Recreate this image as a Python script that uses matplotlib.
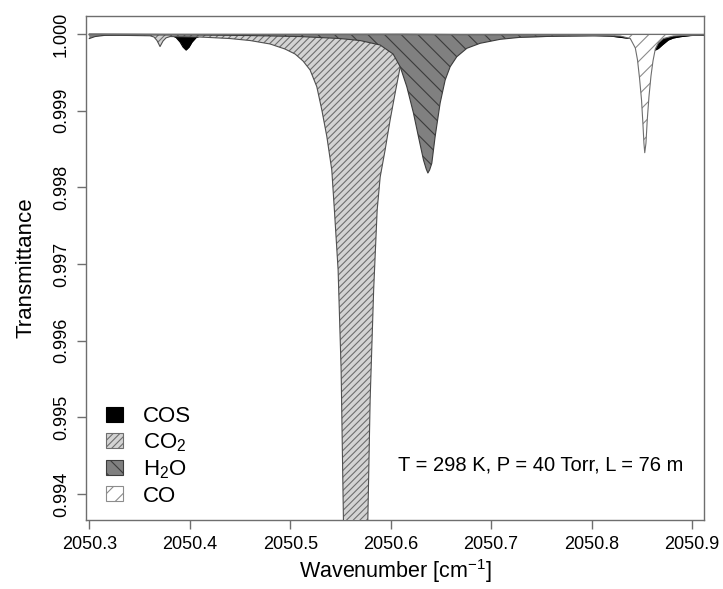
import matplotlib
matplotlib.use("Agg")
import matplotlib.pyplot as plt
from matplotlib.patches import Patch

plt.rcParams['font.family'] = ['Liberation Sans', 'DejaVu Sans']
plt.rcParams['mathtext.fontset'] = 'custom'
plt.rcParams['mathtext.rm'] = 'Liberation Sans'
plt.rcParams['mathtext.it'] = 'Liberation Sans:italic'
plt.rcParams['hatch.linewidth'] = 0.8

# ---- data (wavenumber in cm-1, transmittance) ----
cos_wn = [2050.3000, 2050.3754, 2050.3824, 2050.3864, 2050.3903, 2050.3933, 2050.3963,
          2050.3993, 2050.4023, 2050.4063, 2050.4113, 2050.4202, 2050.6095, 2050.7885,
          2050.8184, 2050.8386, 2050.8505, 2050.8565, 2050.8605, 2050.8635, 2050.8665,
          2050.8704, 2050.8764, 2050.8814, 2050.8884, 2050.8983, 2050.9113]
cos_t = [0.999997, 0.999993, 0.999980, 0.999954, 0.999896, 0.999830, 0.999791,
         0.999830, 0.999896, 0.999954, 0.999980, 0.999992, 0.999996, 0.999987,
         0.999974, 0.999941, 0.999883, 0.999837, 0.999804, 0.999791, 0.999811,
         0.999857, 0.999922, 0.999948, 0.999965, 0.999980, 0.999987]

co2_wn = [2050.3000, 2050.3306, 2050.3605, 2050.3644, 2050.3674, 2050.3704, 2050.3734,
          2050.3764, 2050.3804, 2050.4103, 2050.4401, 2050.4601, 2050.4800, 2050.4949,
          2050.5049, 2050.5128, 2050.5198, 2050.5265, 2050.5315, 2050.5365, 2050.5414,
          2050.5440, 2050.5477, 2050.5507, 2050.5530, 2050.5557, 2050.5597, 2050.5651,
          2050.5706, 2050.5746, 2050.5773, 2050.5796, 2050.5831, 2050.5866, 2050.5896,
          2050.5945, 2050.5995, 2050.6045, 2050.6095, 2050.6194, 2050.6294, 2050.6493,
          2050.6792, 2050.7091, 2050.7589, 2050.8087, 2050.8585, 2050.9113]
co2_t = [0.999987, 0.999983, 0.999977, 0.999961, 0.999915, 0.999837, 0.999909,
         0.999950, 0.999967, 0.999961, 0.999941, 0.999915, 0.999870, 0.999804,
         0.999739, 0.999648, 0.999531, 0.999313, 0.999009, 0.998661, 0.998227,
         0.997705, 0.996923, 0.995618, 0.993663, 0.991315, 0.986100, 0.982188,
         0.986100, 0.991315, 0.993663, 0.995227, 0.996662, 0.997705, 0.998135,
         0.998487, 0.998879, 0.999231, 0.999570, 0.999739, 0.999830, 0.999896,
         0.999935, 0.999954, 0.999970, 0.999977, 0.999980, 0.999983]

h2o_wn = [2050.3000, 2050.3057, 2050.3156, 2050.3505, 2050.4103, 2050.4601, 2050.5099,
          2050.5497, 2050.5696, 2050.5895, 2050.6025, 2050.6095, 2050.6161, 2050.6227,
          2050.6277, 2050.6327, 2050.6354, 2050.6371, 2050.6388, 2050.6410, 2050.6443,
          2050.6493, 2050.6543, 2050.6593, 2050.6659, 2050.6759, 2050.6891, 2050.7091,
          2050.7290, 2050.7688, 2050.8286, 2050.9113]
h2o_t = [0.999941, 0.999967, 0.999983, 0.999990, 0.999987, 0.999980, 0.999967,
         0.999941, 0.999915, 0.999857, 0.999739, 0.999574, 0.999313, 0.998970,
         0.998661, 0.998357, 0.998240, 0.998187, 0.998227, 0.998314, 0.998661,
         0.999100, 0.999400, 0.999574, 0.999704, 0.999814, 0.999879, 0.999931,
         0.999957, 0.999974, 0.999983, 0.999987]

co_wn = [2050.3000, 2050.6095, 2050.7688, 2050.8087, 2050.8286, 2050.8386, 2050.8436,
         2050.8458, 2050.8478, 2050.8498, 2050.8512, 2050.8522, 2050.8530, 2050.8542,
         2050.8555, 2050.8572, 2050.8592, 2050.8612, 2050.8635, 2050.8665, 2050.8715,
         2050.8814, 2050.8983, 2050.9113]
co_t = [0.999997, 0.999993, 0.999987, 0.999983, 0.999974, 0.999941, 0.999818,
        0.999661, 0.999426, 0.999139, 0.998826, 0.998575, 0.998452, 0.998575,
        0.998879, 0.999182, 0.999452, 0.999648, 0.999804, 0.999883, 0.999941,
        0.999974, 0.999987, 0.999990]

species = ['COS', 'CO$_2$', 'H$_2$O', 'CO']
wns = [cos_wn, co2_wn, h2o_wn, co_wn]
ts = [cos_t, co2_t, h2o_t, co_t]
face = ['#000000', '#d3d3d3', '#808080', '#ffffff']
hatch_col = ['#000000', '#6e6e6e', '#3c3c3c', '#8c8c8c']
hatches = [None, '/////', '\\\\', '//']
outline = ['#000000', '#505050', '#3c3c3c', '#6e6e6e']

xlim = (2050.2967, 2050.9120)
ylim = (0.993661, 1.000239)
xticks = [2050.3, 2050.4, 2050.5, 2050.6, 2050.7, 2050.8, 2050.9]
yticks = [0.994, 0.995, 0.996, 0.997, 0.998, 0.999, 1.000]

W, H = 723, 589
fig = plt.figure(figsize=(W / 100, H / 100), dpi=100)
ax = fig.add_axes([86 / W, 1 - 520 / H, (704 - 86) / W, (520 - 15.7) / H])

for i in range(4):
    ax.fill_between(wns[i], ts[i], 1.0, facecolor=face[i], edgecolor=hatch_col[i],
                    hatch=hatches[i], linewidth=0, zorder=2 + 2 * i)
    ax.plot(wns[i], ts[i], color=outline[i], lw=0.8, zorder=3 + 2 * i)
    ax.plot([wns[i][0], wns[i][-1]], [1.0, 1.0], color=outline[i], lw=0.8, zorder=3 + 2 * i)

ax.set_xlim(*xlim)
ax.set_ylim(*ylim)
ax.set_xticks(xticks)
ax.set_xticklabels([f'{v:.1f}' for v in xticks])
ax.set_yticks(yticks)
ax.set_yticklabels([f'{v:.3f}' for v in yticks], rotation=90, va='center')
for s in ax.spines.values():
    s.set_color('#6e6e6e')
    s.set_linewidth(1.0)
ax.tick_params(axis='both', direction='out', length=6.5, width=1.0, color='#6e6e6e',
               labelsize=13, labelcolor='black')
ax.tick_params(axis='x', pad=5)
ax.tick_params(axis='y', pad=5)

ax.set_xlabel('Wavenumber [cm$^{-1}$]', fontsize=15.5, labelpad=3)
ax.set_ylabel('Transmittance', fontsize=16, labelpad=12)

ax.text(540.5, 589 - 465, 'T = 298 K, P = 40 Torr, L = 76 m', transform=None,
        fontsize=14.5, ha='center', va='center')

handles = [Patch(facecolor=face[i], edgecolor=hatch_col[i], hatch=hatches[i], linewidth=0.8)
           for i in range(4)]
fig.legend(handles, species, loc='upper left', bbox_to_anchor=(106 / W, 1 - 406 / H),
           frameon=False, fontsize=16, handlelength=0.75, handleheight=0.65,
           handletextpad=0.9, labelspacing=0.2, borderpad=0, borderaxespad=0)

fig.savefig('out.png', dpi=100)
